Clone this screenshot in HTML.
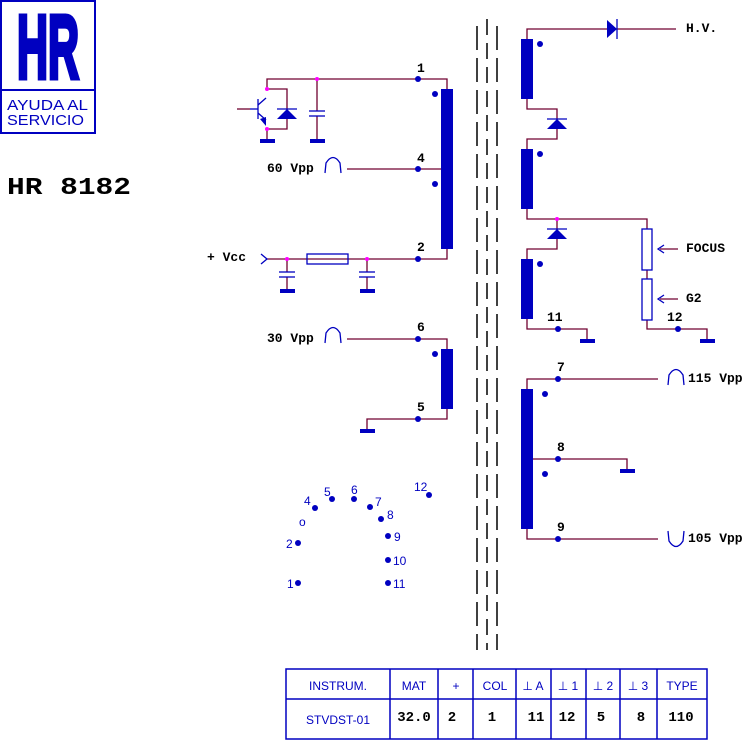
<!DOCTYPE html>
<html><head><style>
html,body{margin:0;padding:0;background:#fff;width:752px;height:740px;overflow:hidden}
svg{display:block}
.l{font-family:"Liberation Mono",monospace;font-weight:bold;font-size:13px;fill:#000}
.b{font-family:"Liberation Sans",sans-serif;font-size:12px;fill:#0000c0}
.t{font-family:"Liberation Sans",sans-serif;font-size:12px;fill:#0000c0}
.tm{font-family:"Liberation Mono",monospace;font-weight:bold;font-size:14px;fill:#000}
</style></head><body>
<svg width="752" height="740" viewBox="0 0 752 740" xmlns="http://www.w3.org/2000/svg">
<!-- logo -->
<rect x="1" y="1" width="94" height="132" fill="none" stroke="#0000c0" stroke-width="2"/>
<line x1="1" y1="90" x2="95" y2="90" stroke="#0000c0" stroke-width="2"/>
<text x="48" y="78" text-anchor="middle" font-family="Liberation Sans" font-weight="bold" font-size="90" fill="#0000c0" stroke="#0000c0" stroke-width="5" textLength="62" lengthAdjust="spacingAndGlyphs">HR</text>
<text x="7" y="110" font-family="Liberation Sans" font-size="15" fill="#0000c0" textLength="81" lengthAdjust="spacingAndGlyphs">AYUDA AL</text>
<text x="7" y="125" font-family="Liberation Sans" font-size="15" fill="#0000c0" textLength="77" lengthAdjust="spacingAndGlyphs">SERVICIO</text>
<text x="7" y="194" font-family="Liberation Mono" font-weight="bold" font-size="24" fill="#000" textLength="124" lengthAdjust="spacingAndGlyphs">HR 8182</text>

<!-- core dashes -->
<g stroke="#000" stroke-width="1.5">
<line x1="477" y1="26" x2="477" y2="650" stroke-dasharray="24 8"/>
<line x1="497" y1="26" x2="497" y2="650" stroke-dasharray="24 8"/>
<line x1="487" y1="19" x2="487" y2="650" stroke-dasharray="16 8"/>
</g>

<g stroke="#700030" stroke-width="1.3" fill="none">
<polyline points="267,89 267,79 447,79 447,89"/>
<line x1="347" y1="169" x2="447" y2="169"/>
<polyline points="267,259 447,259 447,249"/>
<polyline points="267,89 287,89 287,129 267,129 267,140"/>
<line x1="317" y1="79" x2="317" y2="111"/><line x1="317" y1="116" x2="317" y2="140"/>
<line x1="237" y1="109" x2="250" y2="109"/>
<line x1="287" y1="259" x2="287" y2="272"/><line x1="287" y1="277" x2="287" y2="290"/>
<line x1="367" y1="259" x2="367" y2="272"/><line x1="367" y1="277" x2="367" y2="290"/>
<polyline points="347,339 447,339 447,349"/>
<polyline points="367,430 367,419 447,419 447,409"/>
<polyline points="527,39 527,29 676,29"/>
<polyline points="527,99 527,109 557,109 557,139 527,139 527,149"/>
<polyline points="527,209 527,219 647,219 647,229"/>
<polyline points="557,219 557,249 527,249 527,259"/>
<polyline points="527,319 527,329 587,329 587,340"/>
<line x1="647" y1="270" x2="647" y2="279"/>
<polyline points="647,320 647,329 707,329 707,340"/>
<line x1="660" y1="249" x2="678" y2="249"/>
<line x1="660" y1="299" x2="678" y2="299"/>
<polyline points="527,389 527,379 658,379"/>
<polyline points="527,459 627,459 627,470"/>
<polyline points="527,529 527,539 658,539"/>
</g>

<g fill="#0000c0">
<rect x="441" y="89" width="12" height="160"/>
<rect x="441" y="349" width="12" height="60"/>
<rect x="521" y="39" width="12" height="60"/>
<rect x="521" y="149" width="12" height="60"/>
<rect x="521" y="259" width="12" height="60"/>
<rect x="521" y="389" width="12" height="140"/>
<rect x="260" y="139" width="15" height="4"/>
<rect x="310" y="139" width="15" height="4"/>
<rect x="280" y="289" width="15" height="4"/>
<rect x="360" y="289" width="15" height="4"/>
<rect x="360" y="429" width="15" height="4"/>
<rect x="580" y="339" width="15" height="4"/>
<rect x="700" y="339" width="15" height="4"/>
<rect x="620" y="469" width="15" height="4"/>
<circle cx="418" cy="79" r="3"/><circle cx="418" cy="169" r="3"/><circle cx="418" cy="259" r="3"/>
<circle cx="435" cy="94" r="3"/><circle cx="435" cy="184" r="3"/>
<circle cx="418" cy="339" r="3"/><circle cx="418" cy="419" r="3"/><circle cx="435" cy="354" r="3"/>
<circle cx="540" cy="44" r="3"/><circle cx="540" cy="154" r="3"/><circle cx="540" cy="264" r="3"/>
<circle cx="558" cy="329" r="3"/><circle cx="678" cy="329" r="3"/>
<circle cx="558" cy="379" r="3"/><circle cx="558" cy="459" r="3"/><circle cx="558" cy="539" r="3"/>
<circle cx="545" cy="394" r="3"/><circle cx="545" cy="474" r="3"/>
<polygon points="277,119 297,119 287,109"/>
<polygon points="547,129 567,129 557,119"/>
<polygon points="547,239 567,239 557,229"/>
<polygon points="607,20 607,38 617,29"/>
<polygon points="260,119 266,126 266,117"/>
<circle cx="298" cy="583" r="3"/><circle cx="298" cy="543" r="3"/>
<circle cx="315" cy="508" r="3"/><circle cx="332" cy="499" r="3"/><circle cx="354" cy="499" r="3"/>
<circle cx="370" cy="507" r="3"/><circle cx="381" cy="519" r="3"/><circle cx="388" cy="536" r="3"/>
<circle cx="388" cy="560" r="3"/><circle cx="388" cy="583" r="3"/><circle cx="429" cy="495" r="3"/>
</g>
<g stroke="#0000c0" stroke-width="1.3" fill="none">
<line x1="277" y1="109" x2="297" y2="109"/>
<line x1="547" y1="119" x2="567" y2="119"/>
<line x1="547" y1="229" x2="567" y2="229"/>
<line x1="617" y1="19" x2="617" y2="39"/>
<line x1="250" y1="109" x2="258" y2="109"/>
<line x1="258" y1="99" x2="258" y2="119"/>
<line x1="258" y1="105" x2="266" y2="98"/><line x1="258" y1="113" x2="266" y2="120"/>
<line x1="309" y1="111" x2="325" y2="111"/><line x1="309" y1="116" x2="325" y2="116"/>
<line x1="279" y1="272" x2="295" y2="272"/><line x1="279" y1="277" x2="295" y2="277"/>
<line x1="359" y1="272" x2="375" y2="272"/><line x1="359" y1="277" x2="375" y2="277"/>
<rect x="307" y="254" width="41" height="10"/>
<polyline points="261,254 267,259 261,264"/>
<rect x="642" y="229" width="10" height="41"/>
<rect x="642" y="279" width="10" height="41"/>
<polyline points="664,245 658,249 664,253"/>
<polyline points="664,295 658,299 664,303"/>
<path d="M325,173 L326,163 Q333,152 340,163 L341,173"/>
<path d="M325,343 L326,333 Q333,322 340,333 L341,343"/>
<path d="M668,385 L669,375 Q676,364 683,375 L684,385"/>
<path d="M668,531 L669,541 Q676,552 683,541 L684,531"/>
</g>
<g fill="#ff00ff">
<circle cx="267" cy="89" r="2"/><circle cx="267" cy="129" r="2"/><circle cx="317" cy="79" r="2"/>
<circle cx="287" cy="259" r="2"/><circle cx="367" cy="259" r="2"/><circle cx="557" cy="219" r="2"/>
</g>

<text class="l" x="417" y="72">1</text>
<text class="l" x="417" y="162">4</text>
<text class="l" x="417" y="251">2</text>
<text class="l" x="417" y="331">6</text>
<text class="l" x="417" y="411">5</text>
<text class="l" x="267" y="172">60 Vpp</text>
<text class="l" x="267" y="342">30 Vpp</text>
<text class="l" x="207" y="261">+ Vcc</text>
<text class="l" x="686" y="32">H.V.</text>
<text class="l" x="686" y="252">FOCUS</text>
<text class="l" x="686" y="302">G2</text>
<text class="l" x="547" y="321">11</text>
<text class="l" x="667" y="321">12</text>
<text class="l" x="557" y="371">7</text>
<text class="l" x="557" y="451">8</text>
<text class="l" x="557" y="531">9</text>
<text class="l" x="688" y="382">115 Vpp</text>
<text class="l" x="688" y="542">105 Vpp</text>

<text class="b" x="287" y="588">1</text>
<text class="b" x="286" y="548">2</text>
<text class="b" x="299" y="526">o</text>
<text class="b" x="304" y="505">4</text>
<text class="b" x="324" y="496">5</text>
<text class="b" x="351" y="494">6</text>
<text class="b" x="375" y="506">7</text>
<text class="b" x="387" y="519">8</text>
<text class="b" x="394" y="541">9</text>
<text class="b" x="393" y="565">10</text>
<text class="b" x="393" y="588">11</text>
<text class="b" x="414" y="491">12</text>

<g stroke="#0000c0" stroke-width="1.5" fill="none">
<rect x="286" y="669" width="421" height="70"/>
<line x1="286" y1="699" x2="707" y2="699"/>
<line x1="390" y1="669" x2="390" y2="739"/>
<line x1="438" y1="669" x2="438" y2="739"/>
<line x1="473" y1="669" x2="473" y2="739"/>
<line x1="516" y1="669" x2="516" y2="739"/>
<line x1="551" y1="669" x2="551" y2="739"/>
<line x1="586" y1="669" x2="586" y2="739"/>
<line x1="620" y1="669" x2="620" y2="739"/>
<line x1="657" y1="669" x2="657" y2="739"/>
</g>
<g text-anchor="middle">
<text class="t" x="338" y="690">INSTRUM.</text>
<text class="t" x="414" y="690">MAT</text>
<text class="t" x="456" y="690">+</text>
<text class="t" x="495" y="690">COL</text>
<text class="t" x="533" y="690">⊥ A</text>
<text class="t" x="568" y="690">⊥ 1</text>
<text class="t" x="603" y="690">⊥ 2</text>
<text class="t" x="638" y="690">⊥ 3</text>
<text class="t" x="682" y="690">TYPE</text>
<text class="t" x="338" y="724">STVDST-01</text>
<text class="tm" x="414" y="721">32.0</text>
<text class="tm" x="452" y="721">2</text>
<text class="tm" x="492" y="721">1</text>
<text class="tm" x="536" y="721">11</text>
<text class="tm" x="567" y="721">12</text>
<text class="tm" x="601" y="721">5</text>
<text class="tm" x="641" y="721">8</text>
<text class="tm" x="681" y="721">110</text>
</g>
</svg>
</body></html>
